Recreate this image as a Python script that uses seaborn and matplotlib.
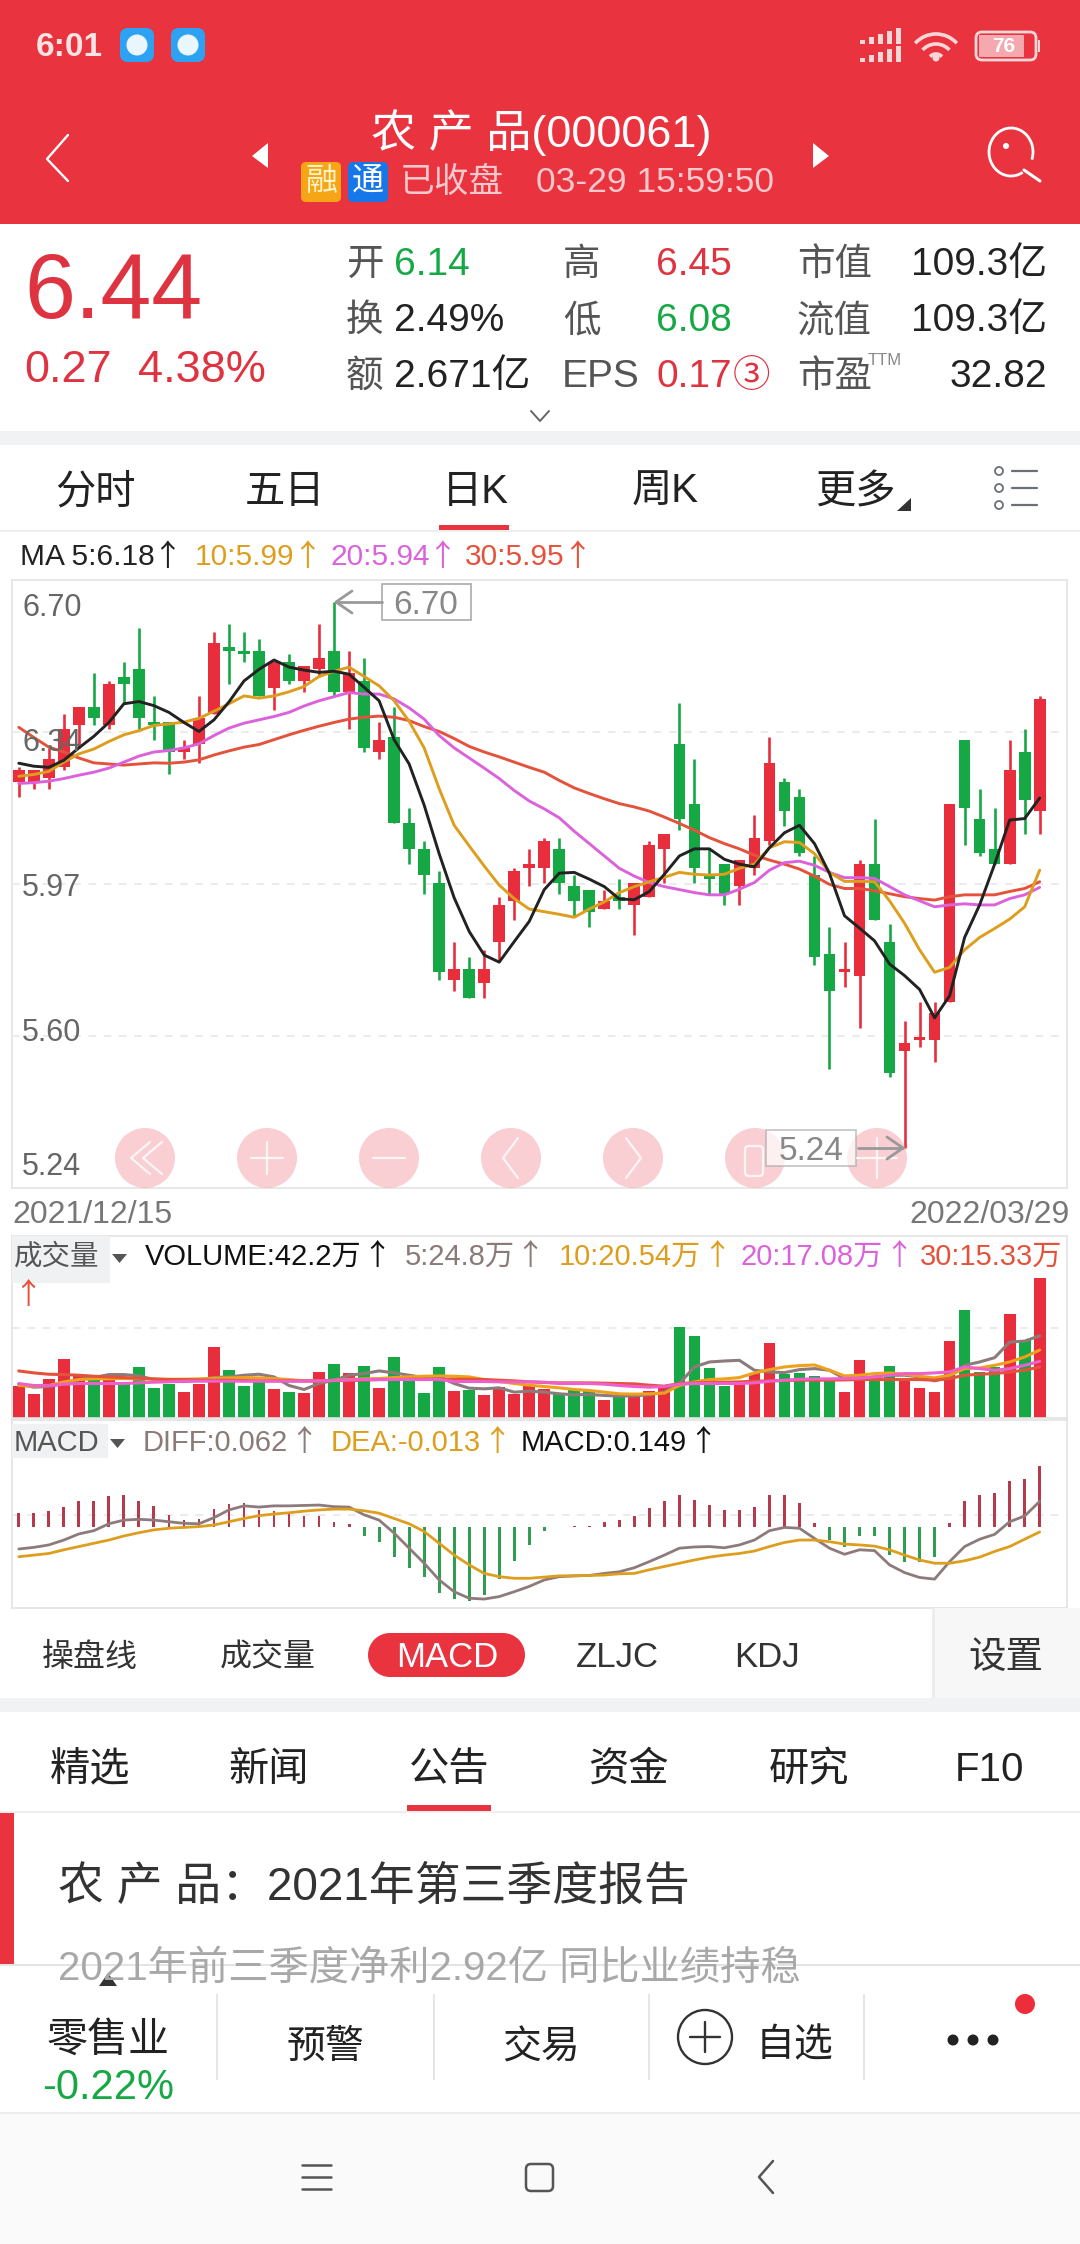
import numpy as np
import seaborn as sns
from matplotlib import pyplot as plt
from matplotlib.patches import Rectangle, Circle, FancyBboxPatch, Polygon, Arc

# daily candles, 2021/12/15 - 2022/03/29
open_px = [6.22,6.22,6.23,6.26,6.37,6.42,6.37,6.50,6.52,6.38,6.38,6.30,6.32,6.40,6.58,6.57,6.57,6.47,6.54,6.49,6.52,6.57,6.46,6.49,6.30,6.34,
           6.11,6.04,5.95,5.69,5.72,5.68,5.79,5.90,5.99,5.99,6.04,5.94,5.93,5.88,5.91,5.89,5.91,6.04,6.32,6.16,5.97,6.00,5.94,5.99,6.06,6.22,6.18,
           5.97,5.76,5.71,5.70,6.00,5.79,5.50,5.53,5.53,5.63,6.33,6.12,6.04,6.00,6.30,6.14]
high_px = [6.26,6.25,6.31,6.40,6.42,6.51,6.49,6.54,6.63,6.45,6.38,6.33,6.45,6.62,6.64,6.62,6.60,6.54,6.56,6.53,6.64,6.70,6.57,6.55,6.38,6.42,
           6.15,6.06,5.98,5.79,5.75,5.77,5.91,5.99,6.04,6.07,6.07,5.97,5.93,5.93,5.96,5.95,6.06,6.08,6.43,6.28,6.04,6.00,6.01,6.13,6.34,6.23,6.20,
           6.02,5.83,5.79,6.01,6.12,5.84,5.58,5.63,5.63,6.16,6.33,6.20,6.15,6.33,6.36,6.45]
low_px = [6.18,6.20,6.20,6.25,6.31,6.37,6.36,6.43,6.36,6.33,6.24,6.28,6.27,6.40,6.48,6.54,6.45,6.41,6.48,6.46,6.50,6.45,6.36,6.30,6.28,6.11,
          6.00,5.92,5.69,5.66,5.64,5.64,5.74,5.85,5.94,5.95,5.92,5.86,5.83,5.88,5.88,5.81,5.91,5.95,6.09,5.95,5.92,5.89,5.89,5.97,6.05,6.10,6.02,
          5.73,5.45,5.67,5.56,5.85,5.43,5.24,5.51,5.47,5.63,6.05,6.02,6.00,6.00,6.08,6.08]
close_px = [6.25,6.25,6.28,6.36,6.42,6.39,6.48,6.48,6.39,6.37,6.30,6.31,6.39,6.59,6.57,6.56,6.45,6.54,6.49,6.53,6.55,6.46,6.51,6.31,6.33,6.11,
            6.04,5.97,5.71,5.72,5.64,5.72,5.89,5.98,6.00,6.06,5.95,5.90,5.87,5.90,5.90,5.95,6.05,6.08,6.12,5.99,5.96,5.92,6.01,6.07,6.27,6.14,6.03,
            5.75,5.66,5.72,6.00,5.85,5.44,5.52,5.53,5.60,6.16,6.15,6.03,6.00,6.25,6.17,6.44]

ma5 = [6.269,6.261,6.258,6.277,6.310,6.341,6.378,6.428,6.434,6.423,6.405,6.378,6.354,6.385,6.433,6.489,6.520,6.545,6.526,6.518,6.512,6.515,6.507,
       6.472,6.436,6.332,6.267,6.157,6.027,5.909,5.819,5.756,5.737,5.792,5.846,5.931,5.975,5.977,5.959,5.939,5.906,5.904,5.926,5.972,6.021,6.040,
       6.040,6.012,5.999,5.992,6.043,6.083,6.103,6.054,5.974,5.861,5.828,5.794,5.732,5.701,5.664,5.588,5.647,5.803,5.890,5.999,6.117,6.121,6.176]
ma10 = [6.234,6.239,6.247,6.272,6.294,6.307,6.327,6.345,6.356,6.370,6.374,6.379,6.389,6.408,6.428,6.449,6.443,6.449,6.460,6.474,6.501,6.515,6.526,
        6.501,6.476,6.436,6.381,6.310,6.201,6.103,6.048,5.994,5.943,5.907,5.879,5.872,5.865,5.857,5.879,5.898,5.923,5.939,5.952,5.964,5.977,5.972,
        5.970,5.972,5.988,5.999,6.043,6.059,6.057,6.027,5.977,5.953,5.953,5.952,5.901,5.841,5.770,5.710,5.723,5.770,5.803,5.827,5.852,5.885,5.983]
ma20 = [6.215,6.217,6.221,6.228,6.237,6.245,6.256,6.272,6.288,6.299,6.303,6.310,6.321,6.343,6.363,6.376,6.385,6.394,6.405,6.422,6.436,6.447,6.458,
        6.454,6.454,6.441,6.417,6.387,6.343,6.310,6.283,6.256,6.228,6.196,6.168,6.147,6.123,6.087,6.054,6.021,5.988,5.967,5.950,5.939,5.931,5.923,
        5.917,5.917,5.932,5.950,5.983,6.003,6.007,5.996,5.977,5.963,5.963,5.961,5.939,5.917,5.901,5.885,5.890,5.893,5.890,5.890,5.907,5.917,5.937]
ma30 = [6.365,6.338,6.312,6.299,6.283,6.270,6.267,6.264,6.267,6.270,6.269,6.272,6.278,6.291,6.302,6.312,6.319,6.332,6.345,6.357,6.368,6.378,6.387,
        6.392,6.395,6.392,6.383,6.367,6.354,6.335,6.314,6.299,6.286,6.272,6.258,6.245,6.223,6.203,6.188,6.174,6.161,6.152,6.141,6.125,6.108,6.090,
        6.070,6.054,6.040,6.023,6.010,5.999,5.986,5.967,5.945,5.934,5.934,5.928,5.920,5.912,5.907,5.903,5.912,5.917,5.917,5.917,5.926,5.934,5.952]

# volume in 万
volume = [9.6,7.1,11.7,17.9,12.9,11.4,12.4,10.4,15.3,9.0,10.4,7.7,10.4,21.3,14.4,9.8,11.4,8.6,7.8,7.4,14.0,16.4,13.7,15.6,9.0,18.4,12.4,7.4,15.5,8.0,
          8.3,7.0,9.3,7.2,9.6,8.8,7.1,8.3,8.3,5.3,6.8,6.3,8.0,9.8,27.6,24.6,15.1,9.8,10.4,13.6,22.7,13.4,13.7,12.6,11.9,7.8,17.4,11.9,15.8,11.6,9.0,
          7.8,23.1,32.7,13.9,15.4,31.4,23.6,42.2]
vol5 = [10.2,9.3,9.5,10.4,11.6,12.2,13.1,13.1,12.7,11.6,11.2,11.0,11.4,12.2,12.4,12.9,13.2,12.4,9.8,8.6,10.4,11.4,12.9,13.4,14.2,13.6,12.9,12.2,12.4,10.4,
        9.0,8.8,9.1,7.8,8.1,7.8,7.3,7.0,7.1,6.8,6.6,6.7,7.0,7.8,10.4,15.4,16.9,17.2,17.4,14.4,13.9,13.7,14.6,14.9,14.4,11.9,11.9,12.4,12.9,12.9,12.4,
        11.2,12.4,15.9,16.9,18.2,22.9,23.2,24.8]
vol10 = [9.8,9.6,9.8,10.9,11.6,11.8,11.8,11.9,11.8,11.7,11.7,11.7,11.8,12.0,12.1,12.2,12.1,11.9,11.6,11.2,11.2,11.4,11.6,11.8,11.9,12.2,12.4,12.6,12.7,12.6,
         12.4,11.6,11.0,10.4,9.9,9.5,9.1,8.6,8.3,7.8,7.3,7.2,7.3,7.5,9.8,10.9,11.6,11.8,12.2,13.6,14.6,15.4,15.8,16.0,14.4,12.7,12.9,13.4,13.6,13.2,12.6,
         12.1,12.9,14.9,15.1,15.9,16.9,18.4,20.5]
vol20 = [10.4,9.8,9.8,10.2,10.4,10.4,10.4,10.4,10.6,10.8,10.9,11.1,11.1,11.1,11.1,11.1,11.1,11.1,11.1,11.1,11.2,11.3,11.5,11.6,11.6,11.6,11.6,11.6,11.6,11.0,
         11.0,11.0,10.9,10.9,10.9,10.8,10.4,10.4,10.4,10.2,9.8,9.5,9.3,9.5,10.2,10.4,10.4,10.4,10.4,10.6,11.1,11.4,11.7,11.8,11.8,11.9,12.0,12.4,12.9,13.4,13.4,
         13.6,13.9,15.4,14.9,14.4,14.9,15.9,17.1]
vol30 = [14.2,13.6,13.2,13.1,12.9,12.6,12.4,12.2,12.0,11.8,11.6,11.6,11.5,11.4,11.4,11.3,11.2,11.2,11.2,11.2,11.2,11.3,11.3,11.4,11.6,11.6,11.7,11.7,11.7,11.7,
         11.7,11.6,11.4,11.2,10.9,10.7,10.6,10.6,10.6,10.5,10.4,10.3,9.9,9.6,10.4,10.6,10.7,10.8,10.9,11.1,11.2,11.3,11.4,11.4,11.4,11.5,11.6,11.6,11.6,11.6,11.6,
         11.4,11.9,12.9,13.2,13.4,13.9,14.4,15.4]

macd_hist = [.034,.034,.038,.048,.063,.063,.076,.078,.063,.051,.029,.016,.019,.043,.055,.057,.041,.038,.031,.026,.025,.012,.007,-.023,-.037,-.074,-.102,-.123,
             -.164,-.179,-.184,-.168,-.129,-.084,-.045,-.010,-.001,.001,.001,.011,.016,.026,.045,.063,.078,.066,.053,.041,.041,.049,.078,.078,.057,.010,-.034,
             -.049,-.023,-.023,-.070,-.086,-.088,-.075,.010,.063,.078,.082,.112,.117,.149]
diff = [-.055,-.051,-.045,-.033,-.018,-.010,.007,.016,.018,.016,.012,.008,.007,.022,.041,.051,.048,.051,.051,.052,.053,.049,.048,.029,.016,-.016,-.053,-.090,
        -.131,-.160,-.176,-.178,-.172,-.160,-.147,-.131,-.123,-.121,-.120,-.115,-.111,-.101,-.086,-.070,-.053,-.050,-.049,-.052,-.045,-.033,-.010,-.002,-.004,
        -.029,-.053,-.068,-.057,-.059,-.094,-.113,-.125,-.129,-.086,-.049,-.031,-.019,.012,.026,.062]
dea = [-.074,-.070,-.066,-.057,-.049,-.041,-.033,-.023,-.015,-.008,-.004,-.002,0,.004,.012,.020,.027,.031,.034,.038,.041,.043,.043,.039,.033,.020,.007,-.012,
       -.041,-.070,-.094,-.115,-.123,-.127,-.127,-.124,-.121,-.121,-.120,-.119,-.116,-.115,-.106,-.098,-.090,-.082,-.075,-.070,-.066,-.060,-.049,-.039,-.033,
       -.033,-.037,-.043,-.045,-.048,-.057,-.070,-.082,-.090,-.090,-.084,-.075,-.061,-.049,-.031,-.013]

price_labels = ['6.70', '6.34', '5.97', '5.60', '5.24']

RED = '#E9333F'
GREEN = '#17A846'
UP = '#E82E3C'
HIST_UP = '#B53A4C'
HIST_DOWN = '#2F9E50'
C5 = '#222222'
C10 = '#DD9E1E'
C20 = '#DB62DB'
C30 = '#E5523C'
CDIFF = '#8C7B7A'
W, H = 1080, 2244

sns.set_theme(style='white')
plt.rcParams['font.family'] = ['Liberation Sans', 'Noto Sans CJK SC', 'DejaVu Sans']

fig = plt.figure(figsize=(W / 100, H / 100), dpi=100, facecolor='white')


def panel(left, top, right, bottom):
    ax = fig.add_axes([left / W, 1 - bottom / H, (right - left) / W, (bottom - top) / H])
    ax.patch.set_alpha(0)
    return ax


def finish(ax, grid_values):
    ax.set_xlim(-0.453, 69.82)
    ax.set_xticks([])
    ax.set_yticks([])
    ax.set_xlabel('')
    ax.set_ylabel('')
    for y in grid_values:
        ax.axhline(y, color='#E6E6E6', lw=1.1, ls=(0, (5, 5)), zorder=0)
    for s in ax.spines.values():
        s.set_color('#E3E3E3')
        s.set_linewidth(1.2)


days = np.arange(len(close_px))
o, h, l, c = map(np.array, (open_px, high_px, low_px, close_px))
candle_cols = np.where(c >= o, UP, GREEN)

# price panel
ax1 = panel(12, 580, 1067, 1188)
ax1.vlines(days, l, h, colors=candle_cols, lw=1.9, zorder=2)
ax1.bar(days, np.maximum(np.abs(c - o), 0.007), bottom=np.minimum(o, c), width=0.78,
        color=candle_cols, edgecolor='none', linewidth=0, zorder=2)
for vals, col in [(ma30, C30), (ma20, C20), (ma10, C10), (ma5, C5)]:
    sns.lineplot(x=days, y=vals, color=col, lw=2.1, ax=ax1, zorder=3, errorbar=None)
ax1.set_ylim(5.133, 6.759)
finish(ax1, [5.539, 5.946, 6.352])

# volume panel
ax2 = panel(12, 1236, 1067, 1418)
vol_side = ['up' if x >= y else 'down' for x, y in zip(close_px, open_px)]
sns.barplot(x=days, y=volume, hue=vol_side, palette={'up': UP, 'down': GREEN}, native_scale=True,
            dodge=False, width=0.78, saturation=1, legend=False, errorbar=None, ax=ax2, zorder=2,
            edgecolor='none', linewidth=0)
for vals, col in [(vol5, CDIFF), (vol10, '#EFA11C'), (vol30, C30), (vol20, '#EE5FCB')]:
    sns.lineplot(x=days, y=vals, color=col, lw=2.2, ax=ax2, zorder=3, errorbar=None)
ax2.set_ylim(0, 54.9)
finish(ax2, [27.1])

# macd panel
ax3 = panel(12, 1420, 1067, 1608)
hist_side = ['up' if v >= 0 else 'down' for v in macd_hist]
sns.barplot(x=days, y=macd_hist, hue=hist_side, palette={'up': HIST_UP, 'down': HIST_DOWN}, native_scale=True,
            dodge=False, width=0.19, saturation=1, legend=False, errorbar=None, ax=ax3, zorder=2,
            edgecolor='none', linewidth=0)
sns.lineplot(x=days, y=diff, color=CDIFF, lw=2.0, ax=ax3, zorder=3, errorbar=None)
sns.lineplot(x=days, y=dea, color=C10, lw=2.0, ax=ax3, zorder=3, errorbar=None)
ax3.set_ylim(-0.200, 0.262)
finish(ax3, [0.028])

# everything around the charts, in screen pixels
ui = fig.add_axes([0, 0, 1, 1], zorder=10)
ui.set_xlim(0, W)
ui.set_ylim(H, 0)
ui.axis('off')


def txt(x, y, s, size, color='#222222', ha='left', **kw):
    return ui.text(x, y, s, fontsize=size, color=color, ha=ha, va='center', **kw)


def legend_item(x, y, s, size, color, arrow=True, gap=0.52):
    # label plus the wide CJK arrow the app draws after each value
    t = txt(x, y, s, size, color)
    if arrow:
        end = t.get_window_extent(renderer=fig.canvas.get_renderer()).x1
        px = size * 100 / 72
        ui.text(end + gap * px, y, '↑', fontsize=size, color=color, ha='center', va='center',
                family=['Noto Sans CJK SC', 'DejaVu Sans'])


def rect(x0, y0, x1, y1, color, **kw):
    ui.add_patch(Rectangle((x0, y0), x1 - x0, y1 - y0, fc=color, ec='none', lw=0, **kw))


def poly(pts, color, **kw):
    ui.add_patch(Polygon(pts, closed=True, fc=color, ec='none', lw=0, **kw))


def stroke(xs, ys, color='white', lw=2.0, **kw):
    ui.plot(xs, ys, color=color, lw=lw, solid_capstyle='round', **kw)


# header
rect(0, 0, W, 224, RED)
txt(36, 47, '6:01', 24, '#FBE3E4', fontweight='bold')
for x in (120, 171):
    ui.add_patch(FancyBboxPatch((x + 5, 33), 24, 24, boxstyle='round,pad=5,rounding_size=8', fc='#2EA2F2', ec='none', lw=0))
    ui.add_patch(Circle((x + 17, 45), 10.5, fc='#EAF6FE', ec='none', lw=0))
for row, yb in enumerate((44, 62)):
    for i, bh in enumerate((4, 7, 10, 13, 16)):
        rect(860 + i * 9, yb - bh, 865 + i * 9, yb, '#F9D7D9')
for r in (8, 18, 28):
    ui.add_patch(Arc((936, 62), r * 2, r * 2, theta1=222, theta2=318, ec='#F9D7D9', lw=2.6))
ui.add_patch(Circle((936, 58), 3.5, fc='#F9D7D9', ec='none', lw=0))
ui.add_patch(FancyBboxPatch((976, 32), 60, 28, boxstyle='round,pad=0,rounding_size=6', fc='none', ec='#F9D7D9', lw=2))
rect(979, 35, 1024, 57, '#F5A9AE')
rect(1038, 40, 1040, 52, '#F9D7D9')
txt(1004, 46, '76', 15, 'white', ha='center', fontweight='bold')

stroke([68, 47, 68], [135, 159, 181], lw=1.7)
poly([(268, 143), (252, 156), (268, 168)], 'white')
poly([(813, 143), (829, 156), (813, 168)], 'white')
txt(541, 133, '农 产 品(000061)', 32.5, 'white', ha='center')
ui.add_patch(FancyBboxPatch((303, 164), 36, 36, boxstyle='round,pad=2,rounding_size=5', fc='#F6A516', ec='none', lw=0))
ui.add_patch(FancyBboxPatch((350, 164), 36, 36, boxstyle='round,pad=2,rounding_size=5', fc='#1877E8', ec='none', lw=0))
txt(321, 182, '融', 23, '#FFF3C8', ha='center')
txt(368, 182, '通', 23, 'white', ha='center')
txt(400, 182, '已收盘', 25, '#F8C9CC')
txt(536, 182, '03-29 15:59:50', 25.5, '#F8C9CC')
ui.add_patch(Arc((1011, 152), 44, 48, theta1=60, theta2=380, ec='white', lw=2))
stroke([1024, 1040], [170, 181], lw=2.2)
ui.add_patch(Circle((1006, 146), 3, fc='white', ec='none', lw=0))

# quote block
txt(24, 294, '6.44', 66, '#DE3340')
txt(24, 370, '0.27', 32.5, '#DE3340')
txt(138, 370, '4.38%', 32.5, '#DE3340')
rows = (265, 321, 377)
for y, s in zip(rows, ('开', '换', '额')):
    txt(346, y, s, 27, '#555555')
txt(394, rows[0], '6.14', 28, GREEN)
txt(394, rows[1], '2.49%', 28)
txt(394, rows[2], '2.671亿', 28)
txt(563, rows[0], '高', 27, '#555555')
txt(563, rows[1], '低', 27, '#555555')
txt(562, rows[2], 'EPS', 28, '#555555')
txt(656, rows[0], '6.45', 28, '#DE3340')
txt(656, rows[1], '6.08', 28, GREEN)
txt(656, rows[2], '0.17', 28, '#DE3340')
txt(751, rows[2], '③', 27, '#DE3340', ha='center')
txt(797, rows[0], '市值', 27, '#555555')
txt(797, rows[1], '流值', 27, '#555555')
txt(797, rows[2], '市盈', 27, '#555555')
txt(868, 360, 'TTM', 12, '#888888')
txt(1047, rows[0], '109.3亿', 28, ha='right')
txt(1047, rows[1], '109.3亿', 28, ha='right')
txt(1047, rows[2], '32.82', 28, ha='right')
stroke([531, 540, 549], [411, 421, 411], '#666666', 1.4)
rect(0, 431, W, 445, '#F1F2F4')

# period tabs
for x, s in zip((95, 285, 475, 665, 855), ('分时', '五日', '日K', '周K', '更多')):
    txt(x, 492, s, 29, '#222222', ha='center')
poly([(897, 511), (911, 511), (911, 498)], '#333333')
rect(439, 525, 509, 530, RED)
rect(0, 530, W, 532, '#EEEEEE')
for y in (471, 488, 505):
    stroke([1012, 1037], [y, y], '#6A7078', 1.6)
    ui.add_patch(Circle((999, y), 4, fc='none', ec='#6A7078', lw=1.3))

# MA legend
legend_item(20, 557, 'MA 5:6.18', 21.5, '#222222', gap=0.43)
legend_item(195, 557, '10:5.99', 21.5, C10, gap=0.43)
legend_item(330, 557, '20:5.94', 21.5, C20, gap=0.43)
legend_item(465, 557, '30:5.95', 21.5, C30, gap=0.43)

# price labels
for y, s in zip((608, 743, 888, 1033, 1167), price_labels):
    txt(22, y, s, 22, '#666666')
txt(12, 1215, '2021/12/15', 23, '#777777')
txt(1070, 1215, '2022/03/29', 23, '#777777', ha='right')

# hi / lo callouts
ui.add_patch(Rectangle((382, 584), 89, 36, fc='white', ec='#AAAAAA', lw=1.2))
txt(426, 605, '6.70', 24, '#888888', ha='center')
stroke([382, 336], [602, 602], '#999999', 2)
stroke([352, 336, 352], [591, 602, 613], '#999999', 2)

# chart overlay buttons
for x in (145, 267, 389, 511, 633, 755, 877):
    ui.add_patch(Circle((x, 1158), 30, fc='#F4A0A8', ec='none', lw=0, alpha=0.5))
btn = dict(lw=1.6, alpha=0.8)
stroke([150, 131, 150], [1142, 1158, 1174], **btn)
stroke([162, 143, 162], [1142, 1158, 1174], **btn)
stroke([251, 283], [1158, 1158], **btn)
stroke([267, 267], [1142, 1174], **btn)
stroke([373, 405], [1158, 1158], **btn)
stroke([518, 503, 518], [1138, 1158, 1178], **btn)
stroke([626, 641, 626], [1138, 1158, 1178], **btn)
ui.add_patch(FancyBboxPatch((745, 1146), 18, 30, boxstyle='round,pad=0,rounding_size=4', fc='none', ec='white', lw=1.6, alpha=0.8))
stroke([877, 877], [1138, 1178], **btn)
stroke([857, 897], [1158, 1158], **btn)

ui.add_patch(Rectangle((766, 1130), 90, 36, fc='white', ec='#AAAAAA', lw=1.2, alpha=0.7))
txt(811, 1151, '5.24', 24, '#888888', ha='center')
stroke([858, 903], [1148, 1148], '#999999', 2)
stroke([887, 903, 887], [1137, 1148, 1159], '#999999', 2)

# volume legend
rect(12, 1236, 110, 1283, '#F0F1F3')
txt(14, 1257, '成交量', 20.5, '#555555')
poly([(112, 1254), (127, 1254), (119.5, 1263)], '#555555')
legend_item(145, 1257, 'VOLUME:42.2万', 21, '#111111')
legend_item(405, 1257, '5:24.8万', 21, '#8A7A78')
legend_item(559, 1257, '10:20.54万', 21, C10)
legend_item(741, 1257, '20:17.08万', 21, C20)
legend_item(920, 1257, '30:15.33万', 21, C30, arrow=False)
ui.text(28, 1296, '↑', fontsize=21, color=C30, ha='center', va='center', family=['Noto Sans CJK SC', 'DejaVu Sans'])

# macd legend
rect(12, 1424, 108, 1458, '#F0F1F3')
txt(14, 1443, 'MACD', 21, '#555555')
poly([(110, 1439), (125, 1439), (117.5, 1448)], '#555555')
legend_item(143, 1443, 'DIFF:0.062', 21, '#8A7A78')
legend_item(331, 1443, 'DEA:-0.013', 21, C10)
legend_item(521, 1443, 'MACD:0.149', 21, '#111111')

# indicator switcher
for x, s in zip((90, 268), ('操盘线', '成交量')):
    txt(x, 1658, s, 23, '#333333', ha='center')
rect(390, 1633, 503, 1677, RED)
ui.add_patch(Circle((390, 1655), 22, fc=RED, ec='none', lw=0))
ui.add_patch(Circle((503, 1655), 22, fc=RED, ec='none', lw=0))
txt(447, 1657, 'MACD', 25, 'white', ha='center')
txt(617, 1657, 'ZLJC', 25, '#333333', ha='center')
txt(767, 1657, 'KDJ', 25, '#333333', ha='center')
rect(932, 1608, W, 1698, '#F7F7F7')
rect(932, 1608, 935, 1698, '#EDEDED')
txt(1006, 1658, '设置', 27, '#333333', ha='center')
rect(0, 1698, W, 1712, '#F1F2F4')

# news tabs
for x, s in zip((90, 269, 449, 629, 809, 989), ('精选', '新闻', '公告', '资金', '研究', 'F10')):
    txt(x, 1770, s, 29, '#222222', ha='center')
rect(407, 1805, 491, 1811, RED)
rect(0, 1811, W, 1813, '#EEEEEE')
rect(0, 1813, 14, 1965, RED)
txt(58, 1888, '农 产 品：2021年第三季度报告', 33, '#333333')
txt(58, 1969, '2021年前三季度净利2.92亿 同比业绩持稳', 29, '#A8A8A8')

# bottom bar
rect(0, 1964, W, 2112, 'white')
rect(0, 1964, W, 1966, '#E4E4E4')
poly([(99, 1986), (117, 1986), (108, 1973)], '#333333')
txt(108, 2041, '零售业', 29.5, '#222222', ha='center')
txt(108, 2088, '-0.22%', 30, GREEN, ha='center')
for x in (216, 433, 648, 863):
    rect(x, 1994, x + 1.5, 2080, '#E6E6E6')
txt(325, 2048, '预警', 28, '#222222', ha='center')
txt(541, 2048, '交易', 28, '#222222', ha='center')
ui.add_patch(Circle((705, 2037), 27, fc='none', ec='#333333', lw=1.7))
stroke([690, 720], [2037, 2037], '#333333', 1.7)
stroke([705, 705], [2022, 2052], '#333333', 1.7)
txt(795, 2046, '自选', 28, '#222222', ha='center')
for x in (953, 973, 993):
    ui.add_patch(Circle((x, 2040), 5.5, fc='#222222', ec='none', lw=0))
ui.add_patch(Circle((1025, 2004), 10, fc='#EE2D3C', ec='none', lw=0))

# nav bar
rect(0, 2112, W, H, '#FAFAFA')
rect(0, 2112, W, 2113.5, '#EDEDED')
for y in (2165, 2177, 2189):
    stroke([302, 331], [y, y], '#555555', 1.8)
ui.add_patch(FancyBboxPatch((526, 2164), 27, 27, boxstyle='round,pad=0,rounding_size=5', fc='none', ec='#555555', lw=1.8))
stroke([773, 759, 773], [2161, 2177, 2193], '#555555', 1.8)

fig.savefig('out.png', dpi=100)
